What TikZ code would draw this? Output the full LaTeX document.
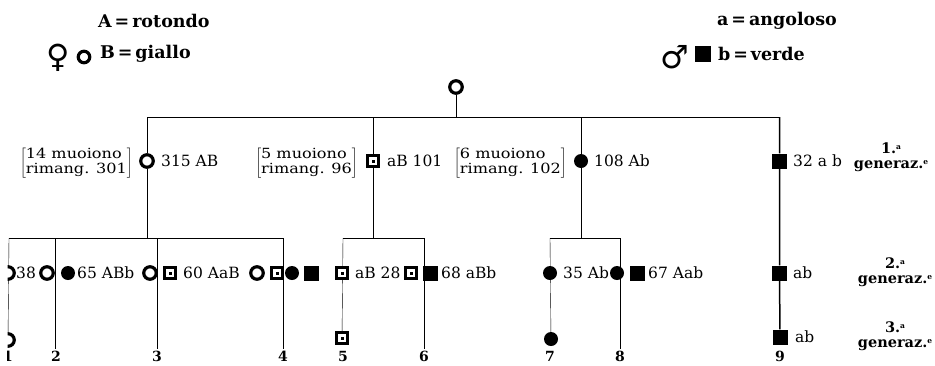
\documentclass[tikz,border=0pt]{standalone}
\usepackage{fontspec}
\setmainfont{DejaVu Serif}
\newfontfamily\symfont{DejaVu Sans}
\newfontfamily\widefont[FakeStretch=1.15]{DejaVu Serif}
\usetikzlibrary{backgrounds}
\newcommand{\supa}[1]{\raisebox{0.55ex}{\fontsize{7.5}{7.5}\selectfont #1}}
\tikzset{
  ring/.style={circle, draw, line width=3.2pt, minimum size=12.5pt, inner sep=0pt, fill=white},
  dotsq/.style={rectangle, draw, line width=3.2pt, minimum size=11pt, inner sep=0pt, fill=white},
  blob/.style={circle, fill, minimum size=14pt, inner sep=0pt},
  blk/.style={rectangle, fill, minimum size=15pt, inner sep=0pt},
  lab/.style={font=\fontsize{15.5}{18}\selectfont, inner sep=0pt, anchor=west},
  brk/.style={font=\widefont\fontsize{14}{14.5}\selectfont, inner sep=0pt, anchor=east},
  gen/.style={font=\bfseries\fontsize{14.5}{15}\selectfont, align=center, inner sep=0pt},
  num/.style={font=\bfseries\fontsize{14}{16}\selectfont, inner sep=0pt},
  leg/.style={font=\bfseries\fontsize{17.5}{20}\selectfont, inner sep=0pt, anchor=west},
  sex/.style={font=\symfont\fontsize{32}{32}\selectfont, inner sep=0pt},
  conn/.style={line width=1pt}
}
\newcommand{\pip}{\rule{3pt}{3pt}}
\newcommand{\brak}[2]{\(\left[\begin{tabular}{@{}l@{}}#1\\#2\end{tabular}\right]\)}
\begin{document}
\begin{tikzpicture}[x=1pt,y=-1pt]
\useasboundingbox (0,0) rectangle (935,365);
\clip (7.5,0) rectangle (935,365);
% legend
\node[leg] (lA) at (98,21) {A\,=\,rotondo};
\node[sex] (fem) at (58,58) {♀};
\node[ring, minimum size=11.5pt] (lO) at (84,57) {};
\node[leg] (lB) at (100,54) {B\,=\,giallo};
\node[leg] (la) at (717,21) {a\,=\,angoloso};
\node[sex] (mal) at (675,57) {♂};
\node[blk, minimum size=16.5pt] (lsq) at (703,54) {};
\node[leg] (lb) at (718,54) {b\,=\,verde};
% parent
\node[ring] (top) at (456,87) {};
\coordinate (hL) at (147,117);
\coordinate (hR) at (779.5,117);
\coordinate (hT) at (456,117);
% generation 1
\node[ring] (g1a) at (147,161) {};
\node[lab] (t1a) at (161,161) {315 AB};
\node[brk] (b1a) at (133,163) {\brak{14 muoiono}{rimang. 301}};
\node[dotsq] (g1b) at (373,161) {\pip};
\node[lab] (t1b) at (387,161) {aB 101};
\node[brk] (b1b) at (358,163) {\brak{5 muoiono}{rimang. 96}};
\node[blob] (g1c) at (581,161) {};
\node[lab] (t1c) at (594,161) {108 Ab};
\node[brk] (b1c) at (567,163) {\brak{6 muoiono}{rimang. 102}};
\node[blk] (g1d) at (779.5,161) {};
\node[lab] (t1d) at (793,161) {32 a b};
\node[gen] (G1) at (891,157) {1.\supa{a}\\generaz.\supa{e}};
% generation 2 junctions
\coordinate (jA) at (147,238);
\coordinate (jB) at (373,238);
\coordinate (jC) at (581,238);
\coordinate (k1) at (9,238);
\coordinate (k2) at (55,238);
\coordinate (k3) at (157,238);
\coordinate (k4) at (283,238);
\coordinate (k5) at (343,238);
\coordinate (k6) at (424,238);
\coordinate (k7) at (550,238);
\coordinate (k8) at (620,238);
\coordinate (e2) at (55,349);
\coordinate (e3) at (157,349);
\coordinate (e4) at (283,349);
\coordinate (e6) at (424,349);
\coordinate (e8) at (620,349);
% generation 2
\node[ring] (o1) at (8,273) {};
\node[lab] (t38) at (16,273) {38};
\node[ring] (o2) at (47,273) {};
\node[blob] (d2) at (68,273) {};
\node[lab] (t65) at (77,273) {65 ABb};
\node[ring] (o3) at (150,273) {};
\node[dotsq] (s3) at (170,273) {\pip};
\node[lab] (t60) at (183,273) {60 AaB};
\node[ring] (o4) at (257,273) {};
\node[dotsq] (s4) at (277,273) {\pip};
\node[blob] (d4) at (292,273) {};
\node[blk] (q4) at (311,273) {};
\node[dotsq] (s5) at (342,273) {\pip};
\node[lab] (t28) at (355,273) {aB 28};
\node[dotsq] (s6) at (411,273) {\pip};
\node[blk] (q6) at (430,273) {};
\node[lab] (t68) at (441,273) {68 aBb};
\node[blob] (d7) at (550,273) {};
\node[lab] (t35) at (563,273) {35 Ab};
\node[blob] (d8) at (617,273) {};
\node[blk] (q8) at (637,273) {};
\node[lab] (t67) at (648,273) {67 Aab};
\node[blk] (q9) at (779.5,273) {};
\node[lab] (t9) at (793,273) {ab};
\node[gen] (G2) at (895,272) {2.\supa{a}\\generaz.\supa{e}};
% generation 3
\node[ring] (o1c) at (8,340) {};
\node[dotsq] (s5c) at (342,338) {\pip};
\node[blob] (d7c) at (551,339) {};
\node[blk] (q9c) at (780,337) {};
\node[lab] (t9c) at (795,337) {ab};
\node[gen] (G3) at (895,336) {3.\supa{a}\\generaz.\supa{e}};
% numbers
\node[num] (n1) at (8,356) {1};
\node[num] (n2) at (56,356) {2};
\node[num] (n3) at (157,356) {3};
\node[num] (n4) at (283,356) {4};
\node[num] (n5) at (343,356) {5};
\node[num] (n6) at (424,356) {6};
\node[num] (n7) at (550,356) {7};
\node[num] (n8) at (620,356) {8};
\node[num] (n9) at (780,356) {9};
% connectors
\begin{scope}[on background layer, conn]
\draw (top) -- (hT);
\draw (hL) -- (hR);
\draw (hL) -- (g1a) -- (jA);
\draw (g1b |- hL) -- (g1b) -- (jB);
\draw (g1c |- hL) -- (g1c) -- (jC);
\draw[line width=1.5pt] (hR) -- (g1d) -- (q9) -- (q9c);
\draw (k1) -- (k4);
\draw (k5) -- (k6);
\draw (k7) -- (k8);
\draw (k1) -- (o1c);
\draw (k2) -- (e2);
\draw (k3) -- (e3);
\draw (k4) -- (e4);
\draw (k5) -- (s5c);
\draw (k6) -- (e6);
\draw (k7) -- (d7c);
\draw (k8) -- (e8);
\end{scope}
\end{tikzpicture}
\end{document}
